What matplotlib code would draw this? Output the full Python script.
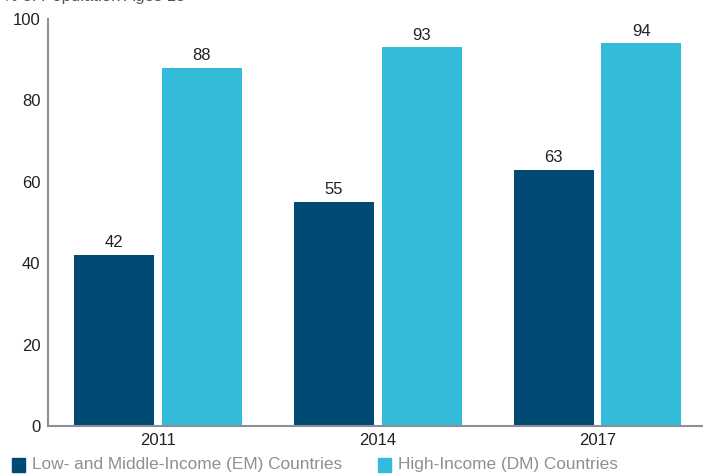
import matplotlib.pyplot as plt
import numpy as np
from matplotlib.patches import Rectangle

plt.rcParams['font.family'] = ['Liberation Sans', 'DejaVu Sans']

YEARS = ["2011", "2014", "2017"]
EM_VALUES = [42, 55, 63]
DM_VALUES = [88, 93, 94]
EM_LABEL = "Low- and Middle-Income (EM) Countries"
DM_LABEL = "High-Income (DM) Countries"
DARK = "#004a74"
LIGHT = "#33bbd9"
GRAY = "#8a8f99"


def main():
    fig = plt.figure(figsize=(7.03, 4.76), dpi=100)
    ax = fig.add_axes([48 / 703, 1 - 426 / 476, 1 - 48 / 703, (426 - 19) / 476])
    x = np.arange(len(YEARS))
    w = 0.364
    b1 = ax.bar(x - 0.2, EM_VALUES, w, color=DARK)
    b2 = ax.bar(x + 0.2, DM_VALUES, w, color=LIGHT)
    for bars in (b1, b2):
        for r in bars:
            ax.text(r.get_x() + r.get_width() / 2, r.get_height() + 1.2,
                    f"{r.get_height():.0f}", ha="center", va="bottom",
                    fontsize=12, color="#222222")
    ax.set_xlim(-0.5, 2.48)
    ax.set_ylim(0, 100)
    ax.set_yticks(range(0, 101, 20))
    ax.set_xticks(x)
    ax.set_xticklabels(YEARS)
    ax.tick_params(length=0, labelsize=12, labelcolor="#222222", pad=5)
    ax.tick_params(axis="y", pad=5.5)
    for s in ("top", "right"):
        ax.spines[s].set_visible(False)
    for s in ("left", "bottom"):
        ax.spines[s].set_color("#8a8f99")
        ax.spines[s].set_linewidth(1.5)

    # axis title, cut off by the top edge as in the source
    fig.text(0.004, 1 + 4 / 476, "% of Population Ages 15+", ha="left", va="center",
             fontsize=12, color="#555555")

    # legend along the bottom edge
    for xs, col, lab in ((12, DARK, EM_LABEL), (378, LIGHT, DM_LABEL)):
        fig.patches.append(Rectangle((xs / 703, 1 - 472 / 476), 13 / 703, 14 / 476,
                                     transform=fig.transFigure, color=col))
        fig.text((xs + 20) / 703, 1 - 465 / 476, lab, ha="left", va="center",
                 fontsize=12.4, color=GRAY)

    fig.savefig("out.png", dpi=100)


if __name__ == "__main__":
    main()
